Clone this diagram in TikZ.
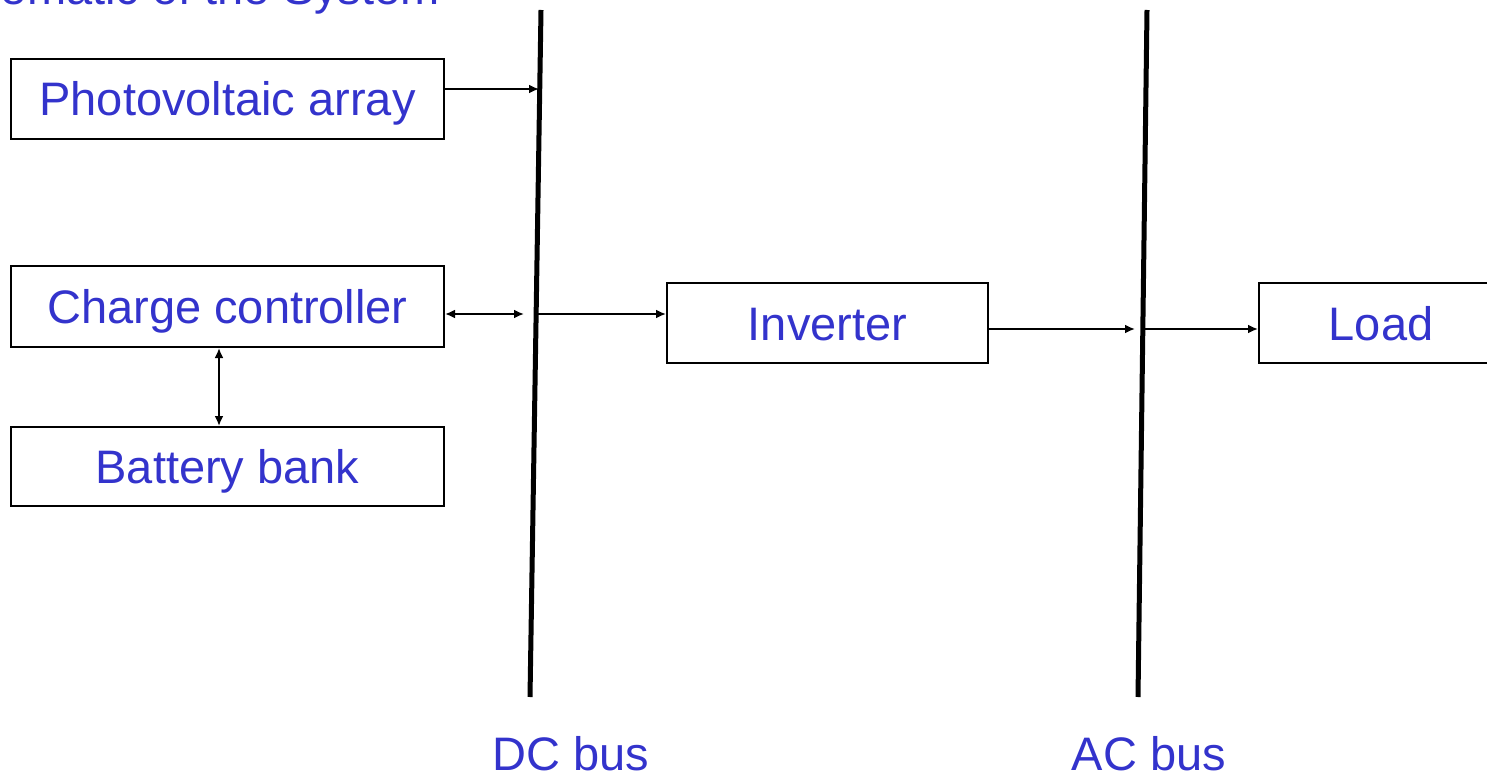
\documentclass[tikz,border=0pt]{standalone}
\usepackage{fontspec}
\setmainfont{Liberation Sans}
\usetikzlibrary{arrows.meta}
\definecolor{txtblue}{RGB}{51,51,204}
\tikzset{
  box/.style={draw=black, line width=2pt, minimum height=80pt, inner sep=0pt, anchor=north west,
    font=\fontsize{47}{56}\selectfont, text=txtblue, text height=34pt, text depth=0pt},
  conn/.style={line width=2pt, -{Latex[length=10pt,width=9pt]}},
  conn2/.style={line width=2pt, {Latex[length=10pt,width=9pt]}-{Latex[length=10pt,width=9pt]}},
  bus/.style={line width=5pt},
  lbl/.style={font=\fontsize{47}{56}\selectfont, text=txtblue, inner sep=0pt}
}
\begin{document}
\begin{tikzpicture}[x=1pt,y=-1pt]
\useasboundingbox (0,0) rectangle (1487,775);
\clip (0,0) rectangle (1487,775);
\node[lbl, anchor=base east] (title) at (440,5) {Schematic of the System};
\node[box, minimum width=433pt] (pv) at (10,58) {Photovoltaic array};
\node[box, minimum width=433pt, minimum height=81pt] (cc) at (10,265) {Charge controller};
\node[box, minimum width=433pt, minimum height=79pt] (bb) at (10,426) {Battery bank};
\node[box, minimum width=321pt] (inv) at (666,282) {Inverter};
\node[box, minimum width=244pt] (load) at (1258,282) {Load};
\coordinate (dct) at (541,10);
\coordinate (dcb) at (530,697);
\coordinate (act) at (1147,10);
\coordinate (acb) at (1138,697);
\draw[bus] (dct) -- (dcb);
\draw[bus] (act) -- (acb);
\node[lbl, anchor=base] (dcl) at (571,770) {DC bus};
\node[lbl, anchor=base] (acl) at (1149,770) {AC bus};
\coordinate (pvend) at (539,89);
\coordinate (ccend) at (524,314);
\coordinate (dcout) at (535,314);
\coordinate (invend) at (1135,329);
\coordinate (acout) at (1143,329);
\draw[conn] (pv.east |- pvend) -- (pvend);
\draw[conn2] (cc.east |- ccend) -- (ccend);
\draw[conn] (dcout) -- (inv.west |- dcout);
\draw[conn] (inv.east |- invend) -- (invend);
\draw[conn] (acout) -- (load.west |- acout);
\draw[conn2] (cc.south -| 219,0) -- (bb.north -| 219,0);
\end{tikzpicture}
\end{document}
